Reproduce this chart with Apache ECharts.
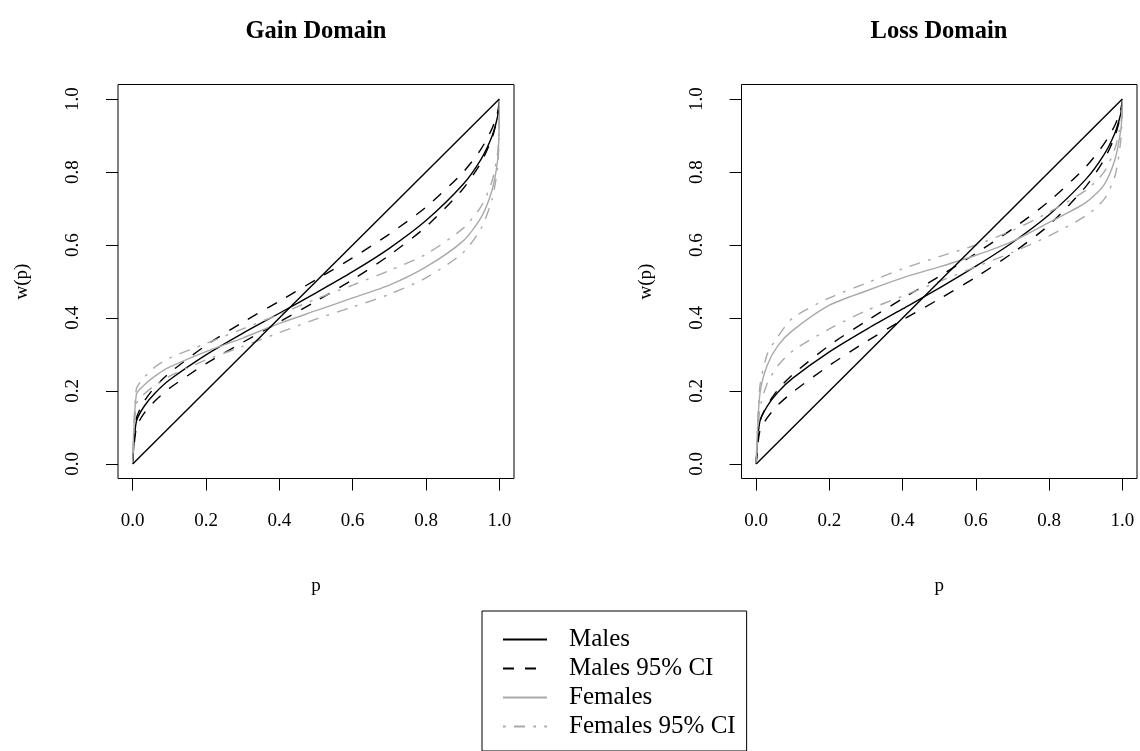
<!DOCTYPE html>
<html>
<head>
<meta charset="utf-8">
<script src="https://cdn.jsdelivr.net/npm/echarts@6/dist/echarts.min.js"></script>
<style>
html, body { margin: 0; background: #fff; }
#chart { width: 1140px; height: 751px; }
</style>
</head>
<body>
<div id="chart"></div>
<script>
var pVals = [0, 0.01, 0.03, 0.06, 0.1, 0.2, 0.3, 0.4, 0.5, 0.6, 0.7, 0.8, 0.9, 0.95, 0.98, 0.995, 0.999, 1];

// gain domain
var maleGain     = [0, 0.116, 0.156, 0.193, 0.230, 0.299, 0.358, 0.413, 0.469, 0.527, 0.591, 0.667, 0.765, 0.835, 0.898, 0.951, 0.980, 1];
var maleGainHi   = [0, 0.124, 0.169, 0.210, 0.249, 0.325, 0.388, 0.446, 0.505, 0.565, 0.630, 0.704, 0.798, 0.863, 0.919, 0.963, 0.986, 1];
var maleGainLo   = [0, 0.099, 0.137, 0.172, 0.207, 0.275, 0.333, 0.389, 0.446, 0.505, 0.572, 0.650, 0.753, 0.826, 0.893, 0.949, 0.979, 1];
var femaleGain   = [0, 0.190, 0.215, 0.240, 0.265, 0.308, 0.345, 0.385, 0.420, 0.455, 0.490, 0.540, 0.610, 0.675, 0.750, 0.830, 0.900, 1];
var femaleGainHi = [0, 0.205, 0.235, 0.265, 0.290, 0.330, 0.370, 0.410, 0.452, 0.490, 0.530, 0.575, 0.645, 0.705, 0.775, 0.850, 0.910, 1];
var femaleGainLo = [0, 0.165, 0.190, 0.215, 0.240, 0.285, 0.322, 0.360, 0.397, 0.430, 0.465, 0.510, 0.578, 0.645, 0.725, 0.810, 0.890, 1];

// loss domain
var maleLoss     = [0, 0.116, 0.158, 0.197, 0.235, 0.307, 0.368, 0.425, 0.482, 0.542, 0.607, 0.683, 0.780, 0.848, 0.908, 0.957, 0.983, 1];
var maleLossHi   = [0, 0.115, 0.161, 0.204, 0.245, 0.325, 0.391, 0.453, 0.514, 0.577, 0.644, 0.720, 0.814, 0.877, 0.929, 0.970, 0.989, 1];
var maleLossLo   = [0, 0.089, 0.126, 0.162, 0.197, 0.270, 0.335, 0.395, 0.452, 0.512, 0.578, 0.655, 0.760, 0.834, 0.899, 0.954, 0.981, 1];
var femaleLoss   = [0, 0.190, 0.270, 0.325, 0.366, 0.435, 0.474, 0.510, 0.540, 0.572, 0.610, 0.662, 0.716, 0.765, 0.835, 0.910, 0.955, 1];
var femaleLossHi = [0, 0.210, 0.300, 0.350, 0.400, 0.455, 0.495, 0.535, 0.568, 0.600, 0.640, 0.690, 0.750, 0.800, 0.865, 0.930, 0.965, 1];
var femaleLossLo = [0, 0.150, 0.220, 0.270, 0.310, 0.370, 0.420, 0.460, 0.500, 0.540, 0.580, 0.625, 0.680, 0.725, 0.790, 0.880, 0.940, 1];

var diagP = [0, 1];
var diagW = [0, 1];

var tickVals = [0, 0.2, 0.4, 0.6, 0.8, 1];
var tickLabels = ['0.0', '0.2', '0.4', '0.6', '0.8', '1.0'];

var serif = 'Liberation Serif';
var grey = '#a9a9a9';
var dashM = [11, 11];          // R lty 2
var dashF = [2.75, 8.25, 11, 8.25]; // R lty 4 (dotdash)

var myChart = echarts.init(document.getElementById('chart'));

function pairs(xs, ys) {
  var out = [];
  for (var i = 0; i < xs.length; i++) {
    out.push([xs[i], ys[i]]);
  }
  return out;
}

function tickText(v) {
  for (var i = 0; i < tickVals.length; i++) {
    if (Math.abs(tickVals[i] - v) < 1e-6) return tickLabels[i];
  }
  return '';
}

function makeX(idx) {
  return {
    type: 'value',
    gridIndex: idx,
    min: -0.04,
    max: 1.04,
    name: 'p',
    nameLocation: 'middle',
    nameGap: 98,
    nameTextStyle: { fontFamily: serif, fontSize: 19, color: '#000' },
    axisLine: { show: false, onZero: false },
    axisTick: { show: true, length: 12, customValues: tickVals, lineStyle: { color: '#000', width: 1 } },
    axisLabel: { customValues: tickVals, formatter: tickText, margin: 33, fontFamily: serif, fontSize: 19, color: '#000' },
    splitLine: { show: false }
  };
}

function makeY(idx) {
  return {
    type: 'value',
    gridIndex: idx,
    min: -0.04,
    max: 1.04,
    name: 'w(p)',
    nameLocation: 'middle',
    nameGap: 86,
    nameTextStyle: { fontFamily: serif, fontSize: 19, color: '#000' },
    axisLine: { show: false, onZero: false },
    axisTick: { show: true, length: 12, customValues: tickVals, lineStyle: { color: '#000', width: 1 } },
    axisLabel: { customValues: tickVals, formatter: tickText, rotate: 90, margin: 35, fontFamily: serif, fontSize: 19, color: '#000' },
    splitLine: { show: false }
  };
}

function line(name, idx, xs, ys, color, dash) {
  return {
    name: name,
    type: 'line',
    xAxisIndex: idx,
    yAxisIndex: idx,
    data: pairs(xs, ys),
    symbol: 'none',
    smooth: 0.25,
    silent: true,
    itemStyle: { color: color },
    lineStyle: { color: color, width: 1.4, type: dash }
  };
}

var series = [];
var panels = [
  [maleGain, maleGainHi, maleGainLo, femaleGain, femaleGainHi, femaleGainLo],
  [maleLoss, maleLossHi, maleLossLo, femaleLoss, femaleLossHi, femaleLossLo]
];
for (var k = 0; k < 2; k++) {
  var d = panels[k];
  series.push(line('Males', k, pVals, d[0], '#000', 'solid'));
  series.push(line('Males 95% CI', k, pVals, d[1], '#000', dashM));
  series.push(line('Males 95% CI', k, pVals, d[2], '#000', dashM));
  series.push(line('Females', k, pVals, d[3], grey, 'solid'));
  series.push(line('Females 95% CI', k, pVals, d[4], grey, dashF));
  series.push(line('Females 95% CI', k, pVals, d[5], grey, dashF));
  series.push(line('diag', k, diagP, diagW, '#000', 'solid'));
}

var option = {
  animation: false,
  backgroundColor: '#fff',
  title: [
    { text: 'Gain Domain', left: 316, top: 19, textAlign: 'center', padding: 0,
      textStyle: { fontFamily: serif, fontWeight: 'bold', fontSize: 24.5, color: '#000' } },
    { text: 'Loss Domain', left: 939, top: 19, textAlign: 'center', padding: 0,
      textStyle: { fontFamily: serif, fontWeight: 'bold', fontSize: 24.5, color: '#000' } }
  ],
  grid: [
    { left: 118, top: 84.5, width: 396, height: 394, show: true, borderColor: '#000', borderWidth: 1 },
    { left: 741.5, top: 84.5, width: 395.5, height: 394, show: true, borderColor: '#000', borderWidth: 1 }
  ],
  xAxis: [makeX(0), makeX(1)],
  yAxis: [makeY(0), makeY(1)],
  legend: {
    data: ['Males', 'Males 95% CI', 'Females', 'Females 95% CI'],
    orient: 'vertical',
    left: 482,
    top: 611,
    padding: [16, 11, 12, 20],
    itemWidth: 44,
    itemHeight: 14,
    itemGap: 4,
    borderColor: '#000',
    borderWidth: 1,
    selectedMode: false,
    itemStyle: { color: 'rgba(0,0,0,0)', borderWidth: 0, opacity: 0 },
    textStyle: { fontFamily: serif, fontSize: 25, color: '#000', padding: [0, 0, 0, 17] }
  },
  series: series
};

myChart.setOption(option);
</script>
</body>
</html>
